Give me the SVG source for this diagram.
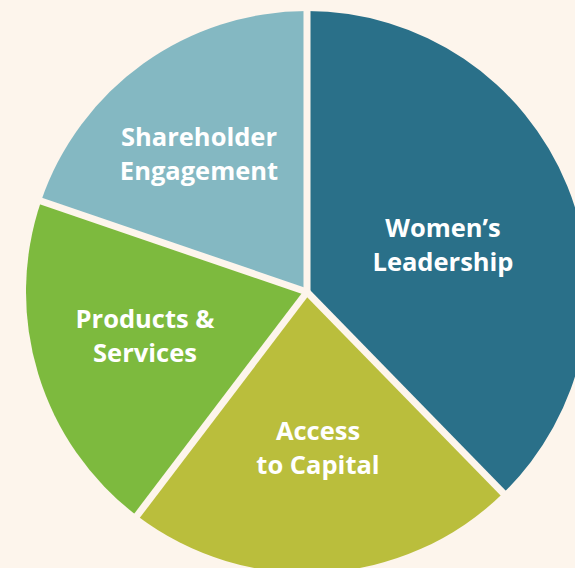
<svg xmlns="http://www.w3.org/2000/svg" width="575" height="568" viewBox="0 0 575 568">
<style>
.lbl{font-family:"Open Sans","Noto Sans",sans-serif;font-weight:700;font-size:25.5px;fill:#ffffff;text-anchor:middle}
.gap{stroke:#FDF5EC;stroke-width:7;stroke-linecap:butt}
</style>
<rect width="575" height="568" fill="#FDF5EC"/>
<g id="women-leadership">
<path d="M307,292 L307,11 A281,281 0 0 1 503.3,493.1 Z" fill="#2A7089"/>
<text class="lbl" x="443" y="237">Women’s</text>
<text class="lbl" x="443" y="271">Leadership</text>
</g>
<g id="access-to-capital">
<path d="M307,292 L503.3,493.1 A281,281 0 0 1 137.1,515.8 Z" fill="#BABE3C"/>
<text class="lbl" x="318" y="440">Access</text>
<text class="lbl" x="318" y="474">to Capital</text>
</g>
<g id="products-services">
<path d="M307,292 L137.1,515.8 A281,281 0 0 1 41,201.4 Z" fill="#7DBA3E"/>
<text class="lbl" x="145" y="328">Products &amp;</text>
<text class="lbl" x="145" y="362">Services</text>
</g>
<g id="shareholder-engagement">
<path d="M307,292 L41,201.4 A281,281 0 0 1 307,11 Z" fill="#84B8C2"/>
<text class="lbl" x="199" y="146">Shareholder</text>
<text class="lbl" x="199" y="180">Engagement</text>
</g>
<g id="connectors">
<line class="gap" x1="307" y1="292" x2="307" y2="5"/>
<line class="gap" x1="307" y1="292" x2="508" y2="498"/>
<line class="gap" x1="307" y1="292" x2="133" y2="521"/>
<line class="gap" x1="307" y1="292" x2="35" y2="199"/>
</g>
</svg>
